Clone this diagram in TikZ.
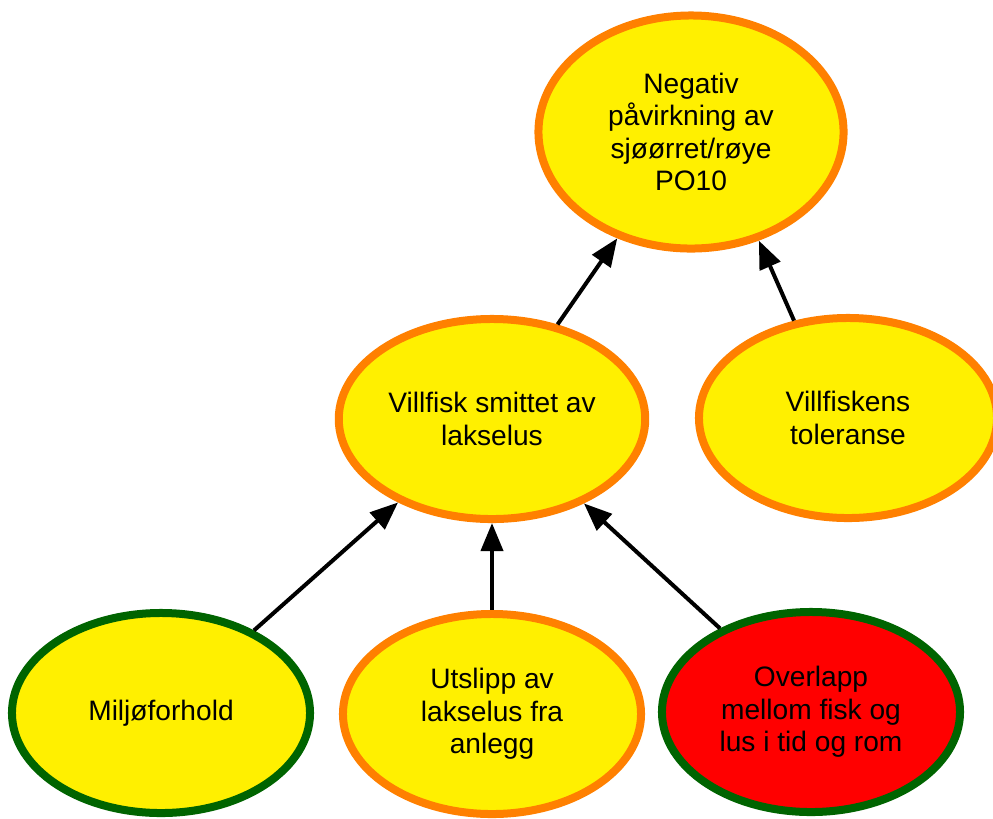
\documentclass[tikz,border=0pt]{standalone}
\usepackage{fontspec}
\setmainfont{Liberation Sans}
\usepackage{xcolor}
\usetikzlibrary{shapes.geometric,arrows.meta}

\definecolor{lusyellow}{HTML}{FFF000}
\definecolor{lusorange}{HTML}{FF8000}
\definecolor{lusgreen}{HTML}{006400}
\definecolor{lusred}{HTML}{FF0000}

\begin{document}
\begin{tikzpicture}[x=0.025cm,y=-0.025cm,
    >={Triangle[length=7mm,width=5.5mm]},
    every node/.style={ellipse,line width=2mm,align=center,
      font=\fontsize{20}{23.2}\selectfont},
    factor/.style={draw=lusorange,fill=lusyellow,
      minimum width=7.45cm,minimum height=5cm},
    driver/.style={factor,draw=lusgreen},
    hazard/.style={driver,fill=lusred},
    link/.style={->,draw=black,line width=0.1cm}]
    \useasboundingbox (0,0) rectangle (993,818);
    % ------------------------------------------------------------------
    %                             NODES
    % ------------------------------------------------------------------
    % top row
    \node[factor,minimum width=7.625cm,minimum height=5.825cm]
                          (neg)       at (691,132) {Negativ\\påvirkning av\\sjøørret/røye\\PO10};
    % second row
    \node[factor]         (villfisk)  at (492,419) {Villfisk smittet av\\lakselus};
    \node[factor]         (toleranse) at (848,418) {Villfiskens\\toleranse};
    % bottom row
    \node[driver]         (miljo)     at (161,713) {Miljøforhold};
    \node[factor]         (utslipp)   at (492,714) {Utslipp av\\lakselus fra\\anlegg};
    \node[hazard]         (overlapp)  at (811,712) {Overlapp\\mellom fisk og\\lus i tid og rom};

    % ------------------------------------------------------------------
    %                             EDGES
    % ------------------------------------------------------------------
    \draw[link] (villfisk) -- (neg);
    \draw[link] (toleranse.119) -- (neg.-58);
    \draw[link] (miljo) -- (villfisk);
    \draw[link] (utslipp) -- (villfisk);
    \draw[link] (overlapp) -- (villfisk);
\end{tikzpicture}
\end{document}
